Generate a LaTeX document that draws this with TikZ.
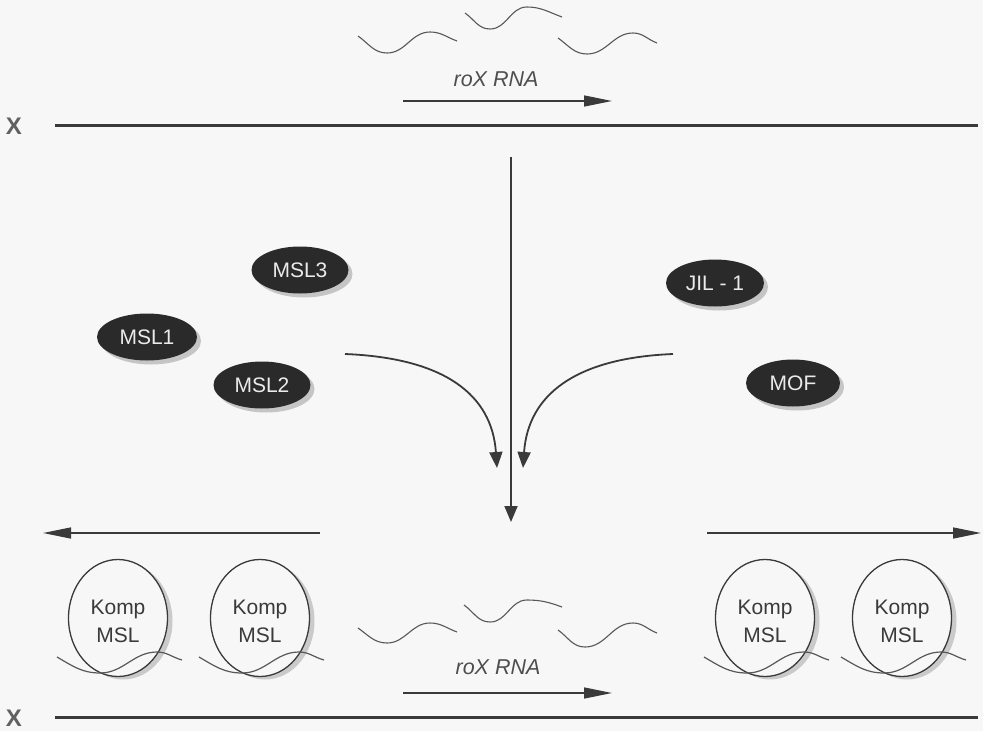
\documentclass[tikz,border=0pt]{standalone}
\usepackage{fontspec}
\setmainfont{Liberation Sans}
\usetikzlibrary{arrows.meta,shadows,shapes.geometric}
\definecolor{ink}{HTML}{3A3A3A}
\definecolor{bg}{HTML}{F7F7F7}
\definecolor{blob}{HTML}{2A2A2A}
\begin{document}
\begin{tikzpicture}[x=1pt,y=-1pt,
  chrom/.style={draw=ink,line width=3pt},
  chromlabel/.style={font=\fontsize{24}{26}\selectfont\bfseries,text=ink!80,inner sep=0pt},
  rna/.style={draw=ink!85,line width=1.1pt},
  thinarrow/.style={draw=ink,line width=1.4pt,-{Triangle[length=28pt,width=11pt]}},
  flowarrow/.style={draw=ink,line width=1.8pt,-{Triangle[length=16pt,width=13pt]}},
  roxlabel/.style={font=\fontsize{21.5}{24}\selectfont\itshape,text=ink!90},
  protein/.style={ellipse,fill=blob,inner sep=0pt,minimum width=97pt,minimum height=47pt,
    text=white!92!black,font=\fontsize{21}{24}\selectfont,
    drop shadow={shadow xshift=4pt,shadow yshift=-4pt,fill=gray!55,opacity=0.8}},
  komp/.style={ellipse,draw=ink,line width=1.3pt,fill=bg,inner sep=0pt,minimum width=99pt,minimum height=117pt,
    drop shadow={shadow xshift=5pt,shadow yshift=-3pt,fill=gray!50,opacity=0.8}},
  komptext/.style={text=ink,align=center,font=\fontsize{21}{28}\selectfont,inner sep=0pt}
]
\useasboundingbox (0,0) rectangle (983,731);
\fill[bg] (0,0) rectangle (983,731);

% chromosomes
\node[chromlabel] (x1) at (14,126) {X};
\node[chromlabel] (x2) at (14,718) {X};
\coordinate (l1a) at (55,125); \coordinate (l1b) at (978,125);
\coordinate (l2a) at (55,717); \coordinate (l2b) at (978,717);
\draw[chrom] (l1a) -- (l1b);
\draw[chrom] (l2a) -- (l2b);

% top RNA waves
\draw[rna] (358,36) to[out=-35,in=180] (387,53) to[out=0,in=180] (430,32) to[out=0,in=160] (457,41);
\draw[rna] (465,13) to[out=-35,in=180] (490,29) to[out=0,in=180] (527,7) to[out=0,in=160] (562,17);
\draw[rna] (558,38) to[out=-35,in=180] (587,54) to[out=0,in=180] (633,33) to[out=0,in=160] (657,43);
\node[roxlabel] (rox1) at (496,79) {roX RNA};
\coordinate (r1a) at (403,101); \coordinate (r1b) at (612,101);
\draw[thinarrow] (r1a) -- (r1b);

% bottom RNA waves
\draw[rna] (358,628) to[out=-35,in=180] (387,643) to[out=0,in=180] (430,623) to[out=0,in=160] (457,632);
\draw[rna] (464,605) to[out=-35,in=180] (490,622) to[out=0,in=180] (527,600) to[out=0,in=160] (562,607);
\draw[rna] (558,630) to[out=-35,in=180] (585,647) to[out=0,in=180] (633,623) to[out=0,in=160] (657,633);
\node[roxlabel] (rox2) at (498,667) {roX RNA};
\coordinate (r2a) at (403,693); \coordinate (r2b) at (612,693);
\draw[thinarrow] (r2a) -- (r2b);

% proteins
\node[protein] (msl3) at (300,270) {MSL3};
\node[protein,minimum width=100pt] (msl1) at (147,337) {MSL1};
\node[protein] (msl2) at (262,385) {MSL2};
\node[protein,minimum width=98pt] (jil) at (715,283) {JIL - 1};
\node[protein,minimum width=94pt] (mof) at (793,383) {MOF};

% flow arrows
\coordinate (vtop) at (511,157); \coordinate (vbot) at (511,522);
\draw[flowarrow] (vtop) -- (vbot);
\coordinate (cl0) at (345,354); \coordinate (cl1) at (497,468);
\coordinate (cr0) at (673,354); \coordinate (cr1) at (523,468);
\draw[flowarrow] (cl0) .. controls (445,358) and (492,395) .. (cl1);
\draw[flowarrow] (cr0) .. controls (575,358) and (528,395) .. (cr1);

% spreading arrows
\coordinate (sl0) at (320,533); \coordinate (sl1) at (43,533);
\coordinate (sr0) at (707,533); \coordinate (sr1) at (981,533);
\draw[thinarrow] (sl0) -- (sl1);
\draw[thinarrow] (sr0) -- (sr1);

% complexes
\foreach \cx/\nm in {118/k1,260/k2,765/k3,902/k4}{
  \node[komp] (\nm) at (\cx,618) {};
  \node[komptext,yshift=-3pt] (\nm t) at (\nm.center) {Komp\\MSL};
  \draw[rna,line width=1.2pt,shift={(\cx,618)}] (-61,39) to[out=-30,in=180] (-18,55) to[out=0,in=180] (39,34) to[out=0,in=165] (64,42);
}
\end{tikzpicture}
\end{document}
